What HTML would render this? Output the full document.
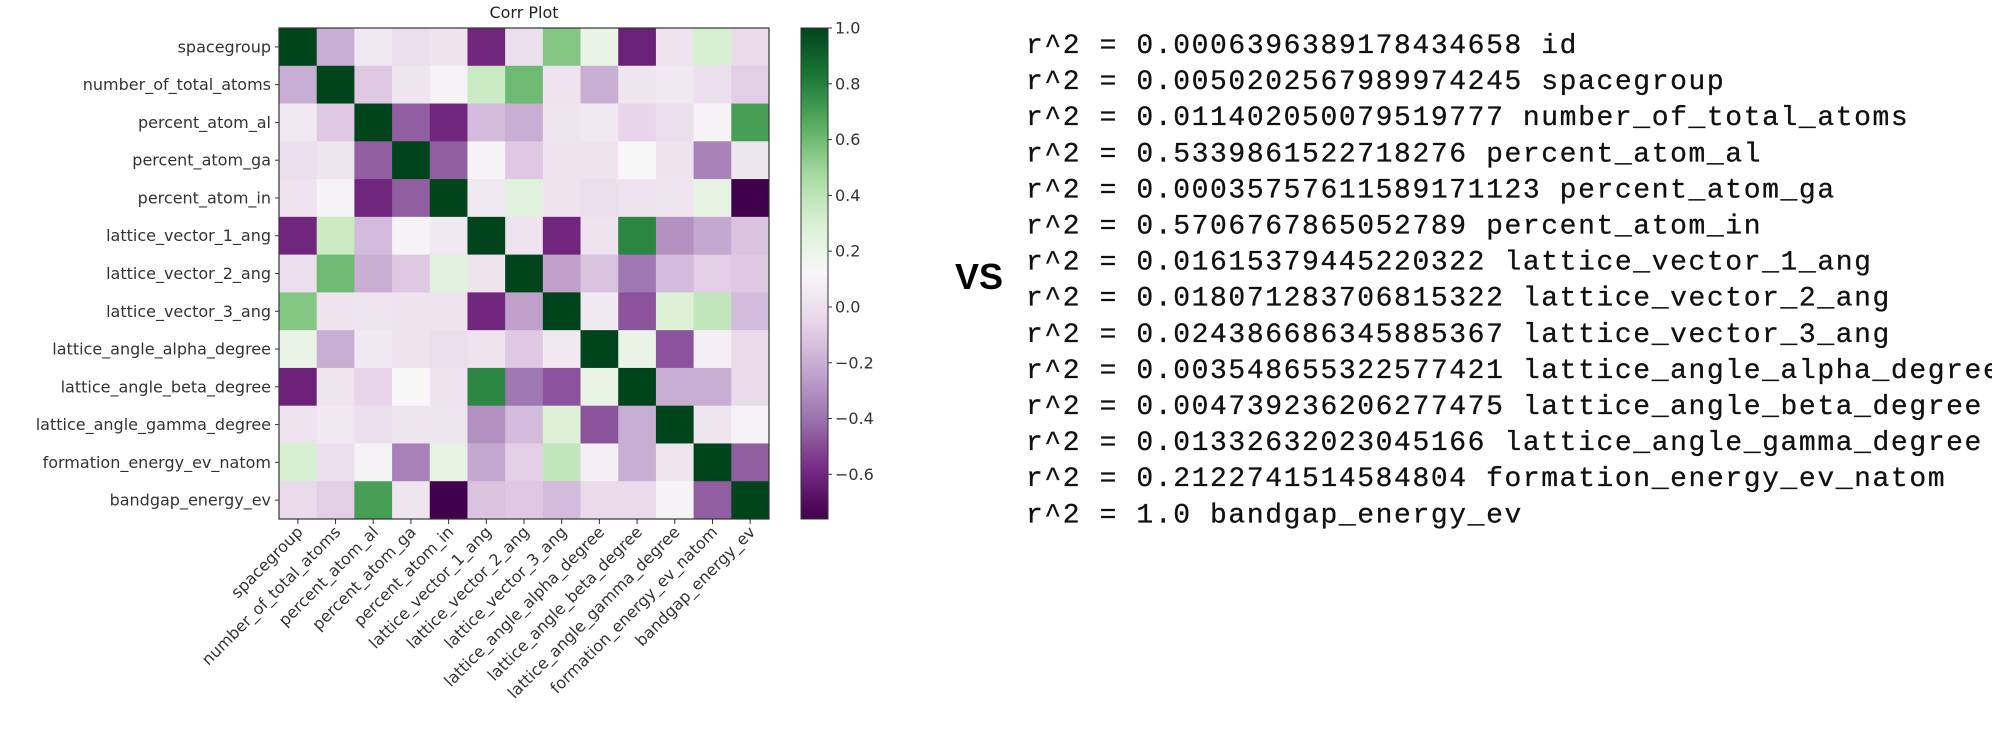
<!DOCTYPE html>
<html><head><meta charset="utf-8"><style>
html,body{margin:0;padding:0;background:#fff;width:1992px;height:742px;overflow:hidden}
svg text{font-family:"DejaVu Sans","Liberation Sans",sans-serif}
.mono{font-family:"Liberation Mono",monospace;font-size:28px;letter-spacing:1.6px;fill:#111;stroke:#111;stroke-width:0.3}
</style></head><body>
<svg id="chart" width="1992" height="742" xmlns="http://www.w3.org/2000/svg">
<text x="524" y="18" font-size="16" text-anchor="middle" fill="#222">Corr Plot</text>
<g id="cells"></g>
<g id="ylabels"></g>
<g id="xlabels"></g>
<g id="cbar"></g>
<text x="955" y="289" font-size="36" font-weight="bold" style="font-family:'Liberation Sans',sans-serif" fill="#000">VS</text>
<g id="rtext"></g>
</svg>
<script>
const labels=["spacegroup","number_of_total_atoms","percent_atom_al","percent_atom_ga","percent_atom_in","lattice_vector_1_ang","lattice_vector_2_ang","lattice_vector_3_ang","lattice_angle_alpha_degree","lattice_angle_beta_degree","lattice_angle_gamma_degree","formation_energy_ev_natom","bandgap_energy_ev"];
const corr=[
[1,-0.2,0.05,0.0,0.02,-0.6,0.0,0.55,0.2,-0.62,0.02,0.3,-0.02],
[-0.2,1,-0.1,0.03,0.1,0.35,0.6,0.02,-0.2,0.03,0.05,0.0,-0.08],
[0.05,-0.1,1,-0.45,-0.6,-0.15,-0.2,0.03,0.05,-0.05,0.0,0.1,0.7],
[0.0,0.03,-0.45,1,-0.45,0.1,-0.1,0.02,0.02,0.12,0.02,-0.35,0.03],
[0.02,0.1,-0.6,-0.45,1,0.05,0.25,0.02,0.0,0.02,0.03,0.22,-0.76],
[-0.6,0.35,-0.15,0.1,0.05,1,0.02,-0.6,0.02,0.78,-0.3,-0.22,-0.12],
[0.0,0.6,-0.2,-0.1,0.25,0.02,1,-0.25,-0.12,-0.38,-0.15,-0.08,-0.1],
[0.55,0.02,0.03,0.02,0.02,-0.6,-0.25,1,0.05,-0.48,0.28,0.38,-0.15],
[0.2,-0.2,0.05,0.02,0.0,0.02,-0.1,0.05,1,0.2,-0.48,0.08,-0.02],
[-0.62,0.03,-0.05,0.12,0.02,0.78,-0.38,-0.48,0.2,1,-0.2,-0.2,-0.02],
[0.02,0.05,0.0,0.03,0.03,-0.3,-0.15,0.28,-0.48,-0.2,1,0.03,0.1],
[0.3,0.0,0.1,-0.35,0.22,-0.22,-0.08,0.38,0.08,-0.2,0.03,1,-0.45],
[-0.02,-0.08,0.7,0.03,-0.76,-0.12,-0.1,-0.15,-0.02,-0.02,0.1,-0.45,1]];
const cbTicks=[1.0,0.8,0.6,0.4,0.2,0.0,-0.2,-0.4,-0.6];
const rLines=["r^2 = 0.0006396389178434658 id","r^2 = 0.0050202567989974245 spacegroup","r^2 = 0.011402050079519777 number_of_total_atoms","r^2 = 0.5339861522718276 percent_atom_al","r^2 = 0.00035757611589171123 percent_atom_ga","r^2 = 0.5706767865052789 percent_atom_in","r^2 = 0.01615379445220322 lattice_vector_1_ang","r^2 = 0.018071283706815322 lattice_vector_2_ang","r^2 = 0.024386686345885367 lattice_vector_3_ang","r^2 = 0.003548655322577421 lattice_angle_alpha_degree","r^2 = 0.004739236206277475 lattice_angle_beta_degree","r^2 = 0.01332632023045166 lattice_angle_gamma_degree","r^2 = 0.2122741514584804 formation_energy_ev_natom","r^2 = 1.0 bandgap_energy_ev"];
const NS="http://www.w3.org/2000/svg";
const L=279,T=28,R=769,B=519;
let vmin=Infinity,vmax=-Infinity;corr.forEach(r=>r.forEach(v=>{vmin=Math.min(vmin,v);vmax=Math.max(vmax,v);}));
const stops=["#40004b","#762a83","#9970ab","#c2a5cf","#e7d4e8","#f7f7f7","#d9f0d3","#a6dba0","#5aae61","#1b7837","#00441b"].map(h=>[1,3,5].map(i=>parseInt(h.substr(i,2),16)));
function cmap(v){let t=(v-vmin)/(vmax-vmin);t=Math.max(0,Math.min(1,t))*10;const i=Math.min(9,Math.floor(t)),f=t-i;const a=stops[i],b=stops[i+1];return `rgb(${a.map((c,k)=>Math.round(c+(b[k]-c)*f)).join(',')})`;}
const n=labels.length,cw=(R-L)/n,ch=(B-T)/n;
const xS=j=>L+j*cw,yS=i=>T+i*ch;
function mk(tag,attrs,parent){const e=document.createElementNS(NS,tag);for(const k in attrs)e.setAttribute(k,attrs[k]);parent.appendChild(e);return e;}
const cells=document.getElementById('cells');
corr.forEach((row,i)=>row.forEach((v,j)=>{const r=mk('rect',{x:xS(j),y:yS(i),width:cw+0.5,height:ch+0.5,fill:cmap(v)},cells);

}));
const fr=mk('rect',{x:L,y:T,width:R-L,height:B-T,fill:'none',stroke:'#333','stroke-width':1.2},cells);


const yl=document.getElementById('ylabels'),xl=document.getElementById('xlabels');
labels.forEach((lab,i)=>{const cy=yS(i)+ch/2;
mk('line',{x1:L-4,x2:L,y1:cy,y2:cy,stroke:'#333'},yl);
const t=mk('text',{x:L-8,y:cy+5.5,'font-size':16,'text-anchor':'end',fill:'#333'},yl);t.textContent=lab;


const cx=xS(i)+cw/2;
mk('line',{x1:cx,x2:cx,y1:B,y2:B+5,stroke:'#333'},xl);
const u=mk('text',{x:cx+6,y:B+14,'font-size':16,'text-anchor':'end',fill:'#333',transform:`rotate(-45 ${cx+6} ${B+14})`},xl);u.textContent=lab;

});
const cb=document.getElementById('cbar');const CL=801,CR=828;
const cs=v=>T+(vmax-v)/(vmax-vmin)*(B-T);
const defs=mk('defs',{},cb);const g=mk('linearGradient',{id:'cg',x1:0,y1:1,x2:0,y2:0},defs);
for(let k=0;k<=20;k++){const v=vmin+(vmax-vmin)*k/20;mk('stop',{offset:k/20,'stop-color':cmap(v)},g);}
const cr=mk('rect',{x:CL,y:T,width:CR-CL,height:B-T,fill:'url(#cg)',stroke:'#333'},cb);


cbTicks.forEach(v=>{const y=cs(v);mk('line',{x1:CR,x2:CR+4,y1:y,y2:y,stroke:'#333'},cb);
const t=mk('text',{x:CR+7,y:y+5.5,'font-size':16,fill:'#333'},cb);t.textContent=(v<0?'\u2212':'')+Math.abs(v).toFixed(1);

});
const rt=document.getElementById('rtext');
rLines.forEach((s,i)=>{const t=mk('text',{x:1026,y:53+i*36.1,class:'mono'},rt);t.textContent=s;

});
</script>
</body></html>
